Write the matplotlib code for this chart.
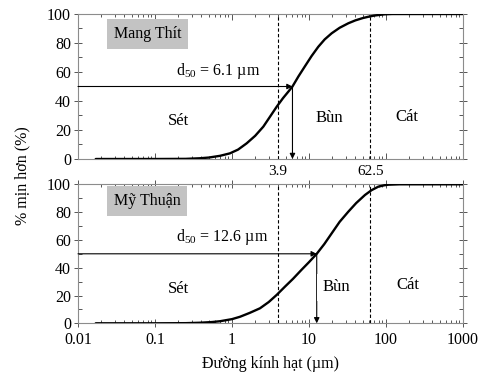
import matplotlib
matplotlib.use("Agg")
import matplotlib.pyplot as plt
from matplotlib.ticker import LogLocator, MultipleLocator, NullFormatter, FixedLocator, FixedFormatter

plt.rcParams['font.family'] = ['Liberation Serif', 'DejaVu Serif']
plt.rcParams['font.size'] = 10
plt.rcParams['mathtext.fontset'] = 'custom'
plt.rcParams['mathtext.rm'] = 'Liberation Serif'

# Data
mt_x = [0.017, 0.1, 0.25, 0.38, 0.5, 0.7, 0.94, 1.2, 1.55, 2.0, 2.55, 3.1, 3.8, 4.6, 5.4, 6.1,
        7.3, 8.87, 10.8, 13.2, 16, 19.7, 25, 32.4, 40, 50, 59, 70, 80, 97, 120, 1000]
mt_y = [0, 0, 0.1, 0.5, 1, 2.2, 3.9, 6.5, 10.8, 16, 22.3, 29, 36, 42, 46.5, 50,
        57, 64, 71, 77.4, 82.5, 86.7, 90.5, 93.6, 95.6, 97.2, 98.1, 98.9, 99.3, 99.8, 100, 100]

mth_x = [0.017, 0.1, 0.25, 0.38, 0.55, 0.7, 1.0, 1.27, 1.7, 2.31, 3.0, 3.8, 4.9, 6.2, 8.0, 10,
         12.6, 15.8, 19.7, 25, 32.4, 41, 53.3, 65, 79.5, 95, 107, 150, 1000]
mth_y = [0, 0, 0.1, 0.4, 0.9, 1.5, 3.0, 4.7, 7.5, 10.8, 15.3, 20.4, 26.5, 32, 38.5, 44,
         50, 57, 64.7, 73, 80.3, 86.5, 92.3, 95.8, 98.3, 99.3, 99.7, 100, 100]

sites = ["Mang Thít", "Mỹ Thuận"]
d50 = [6.1, 12.6]
d50_labels = ["6.1", "12.6"]
boundaries = [3.9, 62.5]
boundary_labels = ["3.9", "62.5"]
classes = ["Sét", "Bùn", "Cát"]
class_x = [[0.2, 18.6, 186], [0.2, 22.9, 195]]
class_y = [[26, 28, 29], [25, 26, 27.6]]
x_ticks = [0.01, 0.1, 1, 10, 100, 1000]
x_ticklabels = ["0.01", "0.1", "1", "10", "100", "1000"]

fig = plt.figure(figsize=(4.88, 3.75), dpi=100)
W, H = 488, 375
left, right = 78 / W, 463 / W
ax1 = fig.add_axes([left, 1 - 159 / H, right - left, (159 - 14) / H])
ax2 = fig.add_axes([left, 1 - 323.3 / H, right - left, (323.3 - 184.3) / H])

spine_col = '#8c8c8c'
box_pos = [(0.029, 86), (0.029, 88)]
d50_y = [60.5, 62]
for i, (ax, xs, ys) in enumerate([(ax1, mt_x, mt_y), (ax2, mth_x, mth_y)]):
    ax.set_xscale('log')
    ax.set_xlim(0.01, 1000)
    ax.set_ylim(0, 100)
    ax.plot(xs, ys, color='black', lw=1.7, solid_capstyle='round', solid_joinstyle='round', zorder=4)
    for b in boundaries:
        ax.axvline(b, color='black', lw=0.8, ls=(0, (3, 2)), zorder=2)
    # d50 arrows
    ax.annotate('', xy=(d50[i], 50), xytext=(0.01, 50),
                arrowprops=dict(arrowstyle='-|>', color='black', lw=0.8,
                                mutation_scale=8, shrinkA=0, shrinkB=0), zorder=3)
    ax.annotate('', xy=(d50[i], 0), xytext=(d50[i], 50),
                arrowprops=dict(arrowstyle='-|>', color='black', lw=0.8,
                                mutation_scale=8, shrinkA=0, shrinkB=0), zorder=3)
    ax.text(0.187, d50_y[i], r'd$_{\mathregular{50}}$ = ' + d50_labels[i] + ' µm',
            ha='left', va='center', fontsize=11.5)
    for c, cx, cy in zip(classes, class_x[i], class_y[i]):
        ax.text(cx, cy, c, ha='center', va='center', fontsize=12,
                bbox=dict(facecolor='white', edgecolor='none', pad=4), zorder=3)
    ax.text(box_pos[i][0], box_pos[i][1], sites[i], ha='left', va='center', fontsize=11.5,
            bbox=dict(facecolor='#c3c3c3', edgecolor='none', pad=5))
    for s in ax.spines.values():
        s.set_color(spine_col)
        s.set_linewidth(0.8)
    ax.yaxis.set_major_locator(MultipleLocator(20))
    ax.yaxis.set_minor_locator(MultipleLocator(10))
    ax.xaxis.set_major_locator(FixedLocator(x_ticks))
    ax.xaxis.set_minor_locator(LogLocator(base=10, subs=range(2, 10), numticks=20))
    ax.xaxis.set_minor_formatter(NullFormatter())
    ax.tick_params(which='both', top=True, right=True, color='#555555', width=0.7)
    ax.tick_params(axis='x', which='major', direction='in', length=4)
    ax.tick_params(axis='x', which='minor', direction='in', length=2.5)
    ax.tick_params(axis='y', which='major', direction='inout', length=6, pad=2)
    ax.tick_params(axis='y', which='minor', direction='in', length=3)
    ax.tick_params(axis='y', labelsize=11.5)

ax1.xaxis.set_major_formatter(NullFormatter())
ax2.xaxis.set_major_formatter(FixedFormatter(x_ticklabels))
ax2.tick_params(axis='x', which='major', labelsize=11.5, direction='inout', length=6)

# boundary labels between panels
for b, lab in zip(boundaries, boundary_labels):
    ax1.text(b, -4, lab, ha='center', va='top', fontsize=11, clip_on=False)

fig.text(22 / W, 1 - 176 / H, '% mịn hơn (%)', rotation=90, ha='center', va='center', fontsize=11.5)
fig.text(270 / W, 1 - 364 / H, 'Đường kính hạt (µm)', ha='center', va='center', fontsize=11.5)

fig.savefig('out.png', dpi=100)
